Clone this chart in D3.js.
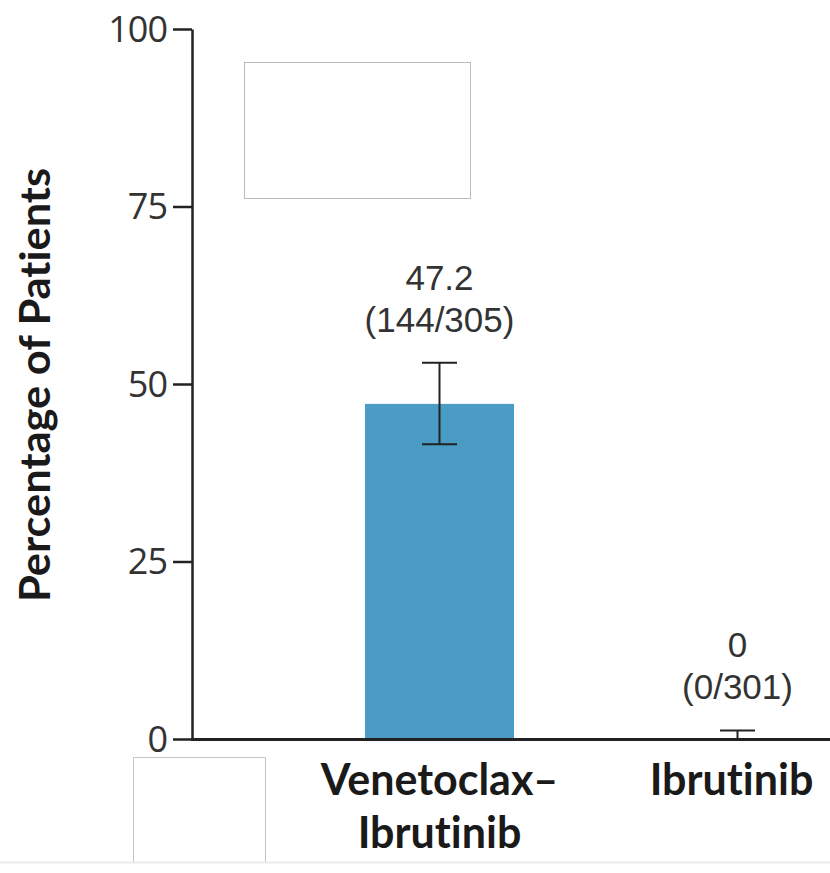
<!DOCTYPE html>
<html>
<head>
<meta charset="utf-8">
<script src="https://cdn.jsdelivr.net/npm/d3@7"></script>
<style>
  html, body { margin: 0; padding: 0; background: #fff; }
  svg { display: block; }
  text { font-variant-ligatures: none; font-feature-settings: "liga" 0, "clig" 0; }
</style>
</head>
<body>
<svg id="chart" width="830" height="873"></svg>
<script>
// Treatment groups and response percentages
const categories = ["Venetoclax–Ibrutinib", "Ibrutinib"];
const categoryLines = [["Venetoclax–", "Ibrutinib"], ["Ibrutinib"]];
const values = [47.2, 0];
const ciLower = [41.5, 0];
const ciUpper = [53.0, 1.2];
const counts = ["(144/305)", "(0/301)"];
const valueLabels = ["47.2", "0"];
const yTicks = [0, 25, 50, 75, 100];

const svg = d3.select("#chart");
const W = 830, H = 873;
const axisX = 192;

const y = d3.scaleLinear().domain([0, 100]).range([739, 29]);
const x = d3.scaleBand().domain(categories).range([290.5, 886.5])
  .paddingInner(0.5).paddingOuter(0.25);

const tickFont = "'Open Sans', 'Noto Sans', sans-serif";
const labelFont = "'Liberation Sans', Arial, sans-serif";
const boldFont = "Lato, 'Open Sans', sans-serif";

// Bars
svg.append("g").selectAll("rect")
  .data(categories)
  .join("rect")
  .attr("x", d => x(d))
  .attr("width", x.bandwidth())
  .attr("y", (d, i) => y(values[i]))
  .attr("height", (d, i) => y(0) - y(values[i]))
  .attr("fill", "#4a9cc4");

// Y axis
const yAxis = d3.axisLeft(y).tickValues(yTicks).tickSize(19).tickPadding(6).tickSizeOuter(0);
const gy = svg.append("g").attr("transform", `translate(${axisX},0)`).call(yAxis);
gy.select(".domain").attr("stroke", "#222").attr("stroke-width", 2.5);
gy.selectAll(".tick line").attr("stroke", "#222").attr("stroke-width", 2.5);
gy.selectAll(".tick text")
  .attr("font-family", tickFont)
  .attr("font-size", 36)
  .attr("fill", "#333")
  .attr("dy", "0.34em")
  .style("letter-spacing", "-1px");

// X axis baseline
svg.append("line")
  .attr("x1", axisX - 1).attr("x2", W)
  .attr("y1", y(0) + 0.5).attr("y2", y(0) + 0.5)
  .attr("stroke", "#222").attr("stroke-width", 3);

// Error bars
const capHalf = 17.5;
const eb = svg.append("g").attr("stroke", "#222").attr("stroke-width", 2);
categories.forEach((c, i) => {
  const cx = x(c) + x.bandwidth() / 2;
  eb.append("line").attr("x1", cx).attr("x2", cx)
    .attr("y1", y(ciLower[i])).attr("y2", y(ciUpper[i]));
  eb.append("line").attr("x1", cx - capHalf).attr("x2", cx + capHalf)
    .attr("y1", y(ciUpper[i])).attr("y2", y(ciUpper[i]));
  if (ciLower[i] > 0) {
    eb.append("line").attr("x1", cx - capHalf).attr("x2", cx + capHalf)
      .attr("y1", y(ciLower[i])).attr("y2", y(ciLower[i]));
  }
});

// Value labels above each group: percentage, then responders/total
categories.forEach((c, i) => {
  const cx = x(c) + x.bandwidth() / 2;
  const top = y(ciUpper[i]);
  const t = svg.append("text")
    .attr("font-family", labelFont).attr("font-size", 35)
    .attr("fill", "#333").attr("text-anchor", "middle");
  t.append("tspan").attr("x", cx).attr("y", top - 73).text(valueLabels[i]);
  t.append("tspan").attr("x", cx).attr("y", top - 31).text(counts[i]);
});

// Category labels
categories.forEach((c, i) => {
  const cx = x(c) + x.bandwidth() / 2 - (i === 1 ? 6 : 0);
  const t = svg.append("text")
    .attr("font-family", boldFont).attr("font-weight", "bold")
    .attr("font-size", 43).attr("fill", "#1a1a1a")
    .attr("text-anchor", "middle");
  categoryLines[i].forEach((line, k) => {
    t.append("tspan").attr("x", cx).attr("y", 795 + k * 53).text(line);
  });
});

// Y axis title
svg.append("text")
  .attr("transform", `translate(50,${y(50) + 1}) rotate(-90)`)
  .attr("text-anchor", "middle")
  .attr("font-family", boldFont).attr("font-weight", "bold")
  .attr("font-size", 42).attr("fill", "#1a1a1a")
  .attr("textLength", 434).attr("lengthAdjust", "spacingAndGlyphs")
  .text("Percentage of Patients");

// Blank panels
svg.append("rect").attr("x", 244.5).attr("y", 62.5).attr("width", 226).attr("height", 136)
  .attr("fill", "#fff").attr("stroke", "#bbb").attr("stroke-width", 1);
svg.append("path").attr("d", "M133.5,862 V757.5 H265.5 V862")
  .attr("fill", "#fff").attr("stroke", "#c4c4c4").attr("stroke-width", 1);
svg.append("line").attr("x1", 0).attr("x2", W).attr("y1", 862.5).attr("y2", 862.5)
  .attr("stroke", "#ececec").attr("stroke-width", 2);
</script>
</body>
</html>
